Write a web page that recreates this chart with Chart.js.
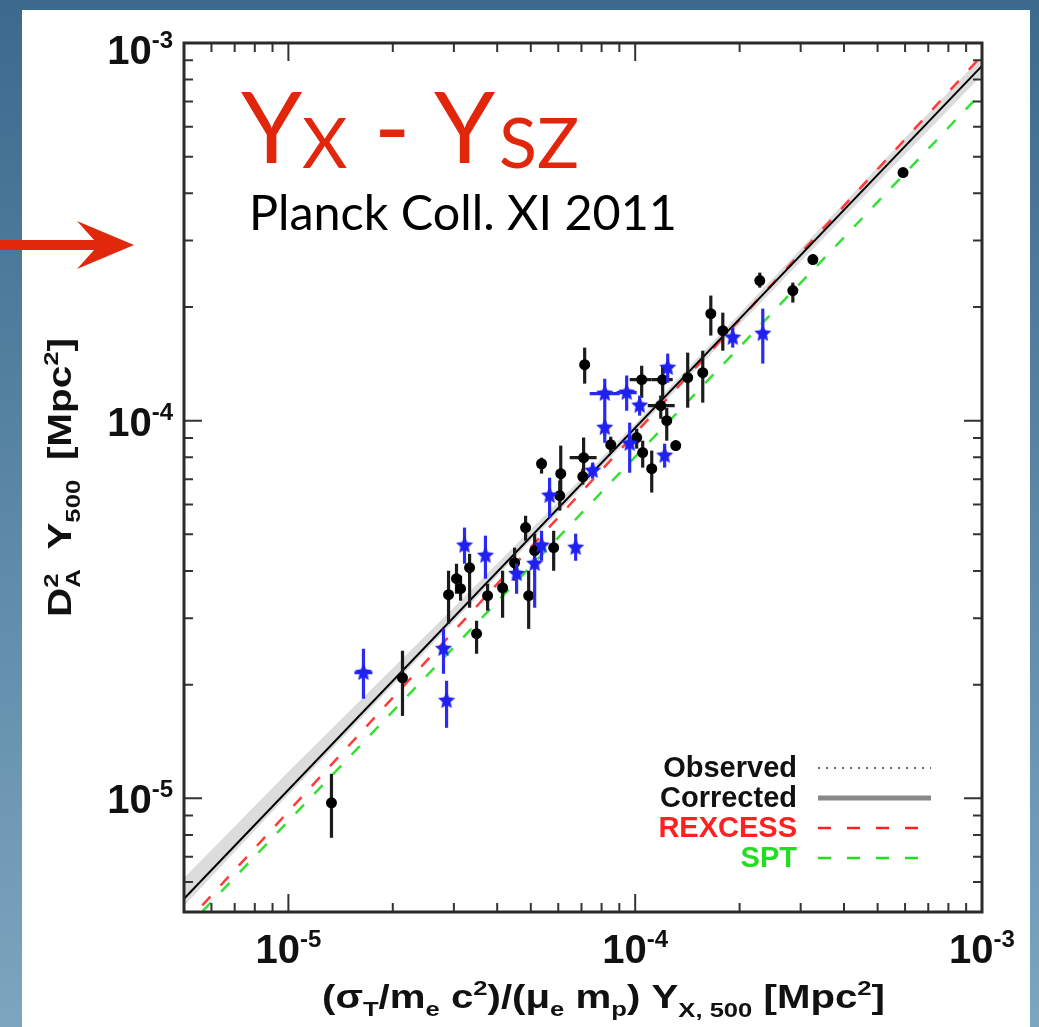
<!DOCTYPE html>
<html>
<head>
<meta charset="utf-8">
<script src="https://cdn.jsdelivr.net/npm/chart.js@4.4.1/dist/chart.umd.min.js"></script>
<style>
html, body { margin: 0; padding: 0; width: 1039px; height: 1027px; overflow: hidden; background: linear-gradient(to bottom, #3c6a8d, #7ca5bf); }
#painel { position: absolute; left: 22px; top: 10px; width: 1008px; height: 1017px; background: #fff; }
#grafico { position: absolute; left: 0; top: 0; }
#seta { position: absolute; left: 0; top: 0; }
</style>
</head>
<body>
<div id="painel"></div>
<canvas id="grafico" width="1039" height="1027"></canvas>
<svg id="seta" width="140" height="300">
  <polygon points="0,240 94,240 77,221 134,245 77,269 94,250 0,250" fill="#e2280c"/>
</svg>
<script>
// eixos (log-log)
const eixoMin = 5e-6;
const eixoMax = 1e-3;
const ticksDecada = [1e-5, 1e-4, 1e-3];
const expoentes = ['-5', '-4', '-3'];

// retas ajustadas (extremos)
const ajusteX = [5e-6, 1e-3];
const corrigidoY = [5.42e-6, 8.70e-4];
const rexcessY = [4.61e-6, 9.27e-4];
const sptY = [4.46e-6, 7.40e-4];

// faixa de incerteza do ajuste corrigido
const faixaX = [5e-6, 1e-5, 3e-5, 1e-4, 3e-4, 1e-3];
const faixaSup = [6.15e-6, 1.175e-5, 3.20e-5, 9.82e-5, 2.85e-4, 9.23e-4];
const faixaInf = [5.19e-6, 1.023e-5, 2.94e-5, 9.33e-5, 2.64e-4, 8.22e-4];

// aglomerados (pretos)
const pretoX = [1.331e-5, 2.133e-5, 2.896e-5, 3.053e-5, 3.136e-5, 3.33e-5, 3.488e-5, 3.753e-5, 4.146e-5, 4.49e-5,
  4.83e-5, 4.93e-5, 5.13e-5, 5.82e-5, 5.37e-5, 6.06e-5, 6.10e-5, 7.10e-5, 7.06e-5, 7.15e-5,
  8.50e-5, 1.010e-4, 1.044e-4, 1.200e-4, 1.417e-4, 1.566e-4, 1.185e-4, 1.233e-4, 1.309e-4, 1.116e-4,
  1.051e-4, 1.652e-4, 1.789e-4, 2.287e-4, 2.848e-4, 3.253e-4, 5.92e-4];
const pretoY = [9.73e-6, 2.085e-5, 3.46e-5, 3.815e-5, 3.59e-5, 4.08e-5, 2.728e-5, 3.44e-5, 3.61e-5, 4.205e-5,
  5.21e-5, 3.44e-5, 4.525e-5, 4.61e-5, 7.69e-5, 6.33e-5, 7.24e-5, 7.98e-5, 7.11e-5, 1.407e-4,
  8.64e-5, 9.02e-5, 1.284e-4, 1.284e-4, 1.300e-4, 1.340e-4, 1.096e-4, 1.0e-4, 8.59e-5, 7.46e-5,
  8.23e-5, 1.920e-4, 1.731e-4, 2.349e-4, 2.21e-4, 2.67e-4, 4.54e-4];
const pretoYmin = [7.86e-6, 1.653e-5, 2.90e-5, 3.48e-5, 3.336e-5, 3.196e-5, 2.414e-5, 3.14e-5, 3.007e-5, 3.77e-5,
  4.81e-5, 2.81e-5, 4.18e-5, 4.005e-5, 7.24e-5, 5.78e-5, 6.25e-5, 7.06e-5, 6.77e-5, 1.253e-4,
  8.23e-5, 8.43e-5, 1.150e-4, 1.150e-4, 1.082e-4, 1.116e-4, 1.012e-4, 8.85e-5, 8.33e-5, 6.45e-5,
  7.51e-5, 1.680e-4, 1.532e-4, 2.25e-4, 2.054e-4, 2.589e-4, 4.43e-4];
const pretoYmax = [1.161e-5, 2.459e-5, 4.005e-5, 4.18e-5, 3.885e-5, 4.44e-5, 2.953e-5, 3.70e-5, 4.005e-5, 4.61e-5,
  5.60e-5, 4.005e-5, 5.02e-5, 5.11e-5, 7.98e-5, 6.94e-5, 8.59e-5, 9.02e-5, 7.46e-5, 1.561e-4,
  9.07e-5, 9.52e-5, 1.398e-4, 1.398e-4, 1.514e-4, 1.532e-4, 1.165e-4, 1.082e-4, 8.85e-5, 8.33e-5,
  8.85e-5, 2.144e-4, 1.932e-4, 2.466e-4, 2.32e-4, 2.752e-4, 4.65e-4];
const pretoXmin = [null, null, null, null, null, null, null, null, null, null,
  null, null, null, null, null, null, null, 6.47e-5, null, null,
  null, null, 9.64e-5, 1.116e-4, null, null, 1.087e-4, null, null, null,
  null, null, null, null, null, null, null];
const pretoXmax = [null, null, null, null, null, null, null, null, null, null,
  null, null, null, null, null, null, null, 7.74e-5, null, null,
  null, null, 1.116e-4, 1.283e-4, null, null, 1.300e-4, null, null, null,
  null, null, null, null, null, null, null];

// aglomerados SPT (estrelas azuis)
const azulX = [1.646e-5, 2.80e-5, 2.858e-5, 3.22e-5, 3.70e-5, 4.55e-5, 5.13e-5, 5.37e-5, 5.665e-5, 6.735e-5,
  7.54e-5, 8.17e-5, 9.45e-5, 1.030e-4, 8.17e-5, 9.64e-5, 1.241e-4, 1.216e-4, 1.911e-4, 2.333e-4];
const azulY = [2.15e-5, 2.489e-5, 1.813e-5, 4.67e-5, 4.39e-5, 3.93e-5, 4.18e-5, 4.67e-5, 6.33e-5, 4.61e-5,
  7.37e-5, 1.179e-4, 1.186e-4, 1.096e-4, 9.58e-5, 8.69e-5, 1.381e-4, 8.08e-5, 1.659e-4, 1.70e-4];
const azulYmin = [1.835e-5, 2.137e-5, 1.537e-5, 4.18e-5, 3.815e-5, 3.48e-5, 3.196e-5, 4.256e-5, 5.53e-5, 4.256e-5,
  7.02e-5, 8.74e-5, 1.063e-4, 1.031e-4, 9.13e-5, 7.28e-5, 1.261e-4, 7.51e-5, 1.561e-4, 1.416e-4];
const azulYmax = [2.489e-5, 2.81e-5, 2.047e-5, 5.21e-5, 4.96e-5, 4.18e-5, 4.335e-5, 5.11e-5, 7.06e-5, 5.02e-5,
  7.74e-5, 1.292e-4, 1.316e-4, 1.165e-4, 1.0e-4, 9.88e-5, 1.505e-4, 8.69e-5, 1.764e-4, 1.98e-4];
const azulXmin = [1.55e-5, null, null, null, null, null, null, null, null, null,
  null, 7.39e-5, 8.84e-5, null, null, null, null, null, null, null];
const azulXmax = [1.747e-5, null, null, null, null, null, null, null, null, null,
  null, 9.02e-5, 1.010e-4, null, null, null, null, null, null, null];

const legendaNomes = ['Observed', 'Corrected', 'REXCESS', 'SPT'];

function pares(xs, ys) { return xs.map((v, i) => ({ x: v, y: ys[i] })); }

function criaEstrela(r, cor) {
  const c = document.createElement('canvas');
  c.width = c.height = 2 * r + 2;
  const g = c.getContext('2d');
  g.fillStyle = cor;
  g.beginPath();
  for (let i = 0; i < 10; i++) {
    const ang = -Math.PI / 2 + i * Math.PI / 5;
    const rr = i % 2 ? r * 0.48 : r;
    g.lineTo(r + 1 + rr * Math.cos(ang), r + 1 + rr * Math.sin(ang));
  }
  g.closePath();
  g.fill();
  return c;
}

// texto com sub/sobrescritos: {t, s, dy, gap, fica}
function textoRico(ctx, partes, x, y, largura) {
  let total = 0;
  const larg = partes.map(p => {
    ctx.font = 'bold ' + p.s + 'px "Liberation Sans", Arial, sans-serif';
    return ctx.measureText(p.t).width;
  });
  partes.forEach((p, i) => { if (!p.fica) total += larg[i] + (p.gap || 0); });
  const esc = largura ? largura / total : 1;
  ctx.save();
  ctx.translate(x, y);
  ctx.scale(esc, 1);
  let cx = 0;
  partes.forEach((p, i) => {
    ctx.font = 'bold ' + p.s + 'px "Liberation Sans", Arial, sans-serif';
    ctx.fillText(p.t, cx, p.dy || 0);
    if (!p.fica) cx += larg[i] + (p.gap || 0);
  });
  ctx.restore();
  return total * esc;
}

const barrasErro = {
  id: 'barrasErro',
  beforeDatasetDraw(chart, args) {
    const ds = chart.data.datasets[args.index];
    if (!ds.erros) return;
    const { ctx, chartArea: a, scales: { x, y } } = chart;
    const e = ds.erros;
    ctx.save();
    ctx.beginPath();
    ctx.rect(a.left, a.top, a.right - a.left, a.bottom - a.top);
    ctx.clip();
    ctx.strokeStyle = ds.corErro;
    ctx.lineWidth = 3.2;
    ds.data.forEach((p, i) => {
      const px = x.getPixelForValue(p.x), py = y.getPixelForValue(p.y);
      ctx.beginPath();
      ctx.moveTo(px, y.getPixelForValue(e.yMin[i]));
      ctx.lineTo(px, y.getPixelForValue(e.yMax[i]));
      if (e.xMin[i] !== null) {
        ctx.moveTo(x.getPixelForValue(e.xMin[i]), py);
        ctx.lineTo(x.getPixelForValue(e.xMax[i]), py);
      }
      ctx.stroke();
    });
    ctx.restore();
  }
};

const moldura = {
  id: 'moldura',
  afterDraw(chart) {
    const { ctx, chartArea: a, scales: { x, y } } = chart;
    ctx.save();
    ctx.strokeStyle = '#333';
    ctx.lineWidth = 2;
    for (let e = -6; e <= -3; e++) {
      for (let m = 1; m <= 9; m++) {
        const v = m * Math.pow(10, e);
        const tam = m === 1 ? 18 : 9;
        ctx.beginPath();
        if (v >= eixoMin * 0.999 && v <= eixoMax * 1.001) {
          const px = x.getPixelForValue(v);
          ctx.moveTo(px, a.bottom); ctx.lineTo(px, a.bottom - tam);
          ctx.moveTo(px, a.top); ctx.lineTo(px, a.top + tam);
          const py = y.getPixelForValue(v);
          ctx.moveTo(a.left, py); ctx.lineTo(a.left + tam, py);
          ctx.moveTo(a.right, py); ctx.lineTo(a.right - tam, py);
        }
        ctx.stroke();
      }
    }
    ctx.lineWidth = 3;
    ctx.strokeStyle = '#2a2a2a';
    ctx.strokeRect(a.left, a.top, a.right - a.left, a.bottom - a.top);

    // rotulos dos ticks
    ctx.fillStyle = '#111';
    ticksDecada.forEach((v, i) => {
      const partes = [{ t: '10', s: 40 }, { t: expoentes[i], s: 24, dy: -16 }];
      const w = textoRico(ctx, partes, -2000, 0);
      textoRico(ctx, partes, x.getPixelForValue(v) - w / 2, 963);
      textoRico(ctx, partes, 173 - w, Math.max(y.getPixelForValue(v) + 15, 64));
    });

    // titulo eixo x
    textoRico(ctx, [
      { t: '(σ', s: 33 }, { t: 'T', s: 21, dy: 8 }, { t: '/m', s: 33 }, { t: 'e', s: 21, dy: 8 },
      { t: ' c', s: 33 }, { t: '2', s: 21, dy: -13 }, { t: ')/(μ', s: 33 }, { t: 'e', s: 21, dy: 8 },
      { t: ' m', s: 33 }, { t: 'p', s: 21, dy: 8 }, { t: ') Y', s: 33 }, { t: 'X, 500', s: 21, dy: 9 },
      { t: ' [Mpc', s: 33 }, { t: '2', s: 21, dy: -13 }, { t: ']', s: 33 }
    ], 322, 1008, 563);

    // titulo eixo y
    ctx.save();
    ctx.translate(71, 617);
    ctx.rotate(-Math.PI / 2);
    textoRico(ctx, [
      { t: 'D', s: 33 }, { t: '2', s: 21, dy: -13, fica: true }, { t: 'A', s: 21, dy: 9, gap: 16 },
      { t: 'Y', s: 33 }, { t: '500', s: 21, dy: 9, gap: 16 },
      { t: '[Mpc', s: 33 }, { t: '2', s: 21, dy: -13 }, { t: ']', s: 33 }
    ], 0, 0, 279);
    ctx.restore();

    // legenda
    const cores = ['#111', '#111', '#ff2020', '#22dd22'];
    ctx.font = 'bold 29px "Liberation Sans", Arial, sans-serif';
    ctx.textAlign = 'right';
    legendaNomes.forEach((nome, i) => {
      const base = 777 + i * 30;
      ctx.fillStyle = cores[i];
      ctx.fillText(nome, 797, base);
      const ly = base - 9;
      ctx.beginPath();
      if (i === 0) { ctx.strokeStyle = '#333'; ctx.lineWidth = 1.5; ctx.setLineDash([2, 6]); ctx.moveTo(818, ly); ctx.lineTo(931, ly); }
      if (i === 1) { ctx.strokeStyle = '#888'; ctx.lineWidth = 5; ctx.setLineDash([]); ctx.moveTo(818, ly); ctx.lineTo(931, ly); }
      if (i >= 2) { ctx.strokeStyle = cores[i]; ctx.lineWidth = 2.5; ctx.setLineDash([13, 16]); ctx.moveTo(818, ly); ctx.lineTo(918, ly); }
      ctx.stroke();
    });
    ctx.setLineDash([]);
    ctx.textAlign = 'left';

    // anotacao do slide
    ctx.fillStyle = '#e2260c';
    ctx.font = '98px Lato, sans-serif';
    ctx.fillText('Y', 241, 163);
    ctx.fillText('-', 374, 163);
    ctx.fillText('Y', 434, 163);
    ctx.font = '70px Lato, sans-serif';
    ctx.fillText('X', 302, 168);
    ctx.fillText('SZ', 499, 168);
    ctx.fillStyle = '#000';
    ctx.font = '49px Lato, sans-serif';
    const wp = ctx.measureText('Planck Coll. XI 2011').width;
    ctx.save();
    ctx.translate(249, 230);
    ctx.scale(428 / wp, 1);
    ctx.fillText('Planck Coll. XI 2011', 0, 0);
    ctx.restore();
    ctx.restore();
  }
};

new Chart(document.getElementById('grafico'), {
  type: 'scatter',
  data: {
    datasets: [
      { data: pares(azulX, azulY), pointStyle: criaEstrela(9, '#2020f0'), pointRadius: 6,
        erros: { yMin: azulYmin, yMax: azulYmax, xMin: azulXmin, xMax: azulXmax }, corErro: '#2a2af0', order: 0 },
      { data: pares(pretoX, pretoY), pointStyle: 'circle', pointRadius: 5.5, backgroundColor: '#000', borderWidth: 0,
        erros: { yMin: pretoYmin, yMax: pretoYmax, xMin: pretoXmin, xMax: pretoXmax }, corErro: '#1c1c1c', order: 1 },
      { data: pares(ajusteX, corrigidoY), showLine: true, pointRadius: 0, borderColor: '#000', borderWidth: 2, order: 3 },
      { data: pares(ajusteX, rexcessY), showLine: true, pointRadius: 0, borderColor: '#ff3a3a', borderWidth: 2.5, borderDash: [12, 15], order: 4 },
      { data: pares(ajusteX, sptY), showLine: true, pointRadius: 0, borderColor: '#33e033', borderWidth: 2.5, borderDash: [12, 15], order: 5 },
      { data: pares(faixaX, faixaSup), showLine: true, pointRadius: 0, borderWidth: 0, borderColor: 'rgba(0,0,0,0)', order: 6 },
      { data: pares(faixaX, faixaInf), showLine: true, pointRadius: 0, borderWidth: 0, borderColor: 'rgba(0,0,0,0)',
        fill: '-1', backgroundColor: 'rgba(185,185,185,0.5)', order: 7 }
    ]
  },
  options: {
    responsive: false,
    animation: false,
    layout: { padding: { left: 184, right: 57, top: 43, bottom: 115 } },
    scales: {
      x: { type: 'logarithmic', min: eixoMin, max: eixoMax, display: false },
      y: { type: 'logarithmic', min: eixoMin, max: eixoMax, display: false }
    },
    plugins: { legend: { display: false }, tooltip: { enabled: false } }
  },
  plugins: [barrasErro, moldura]
});
</script>
</body>
</html>
